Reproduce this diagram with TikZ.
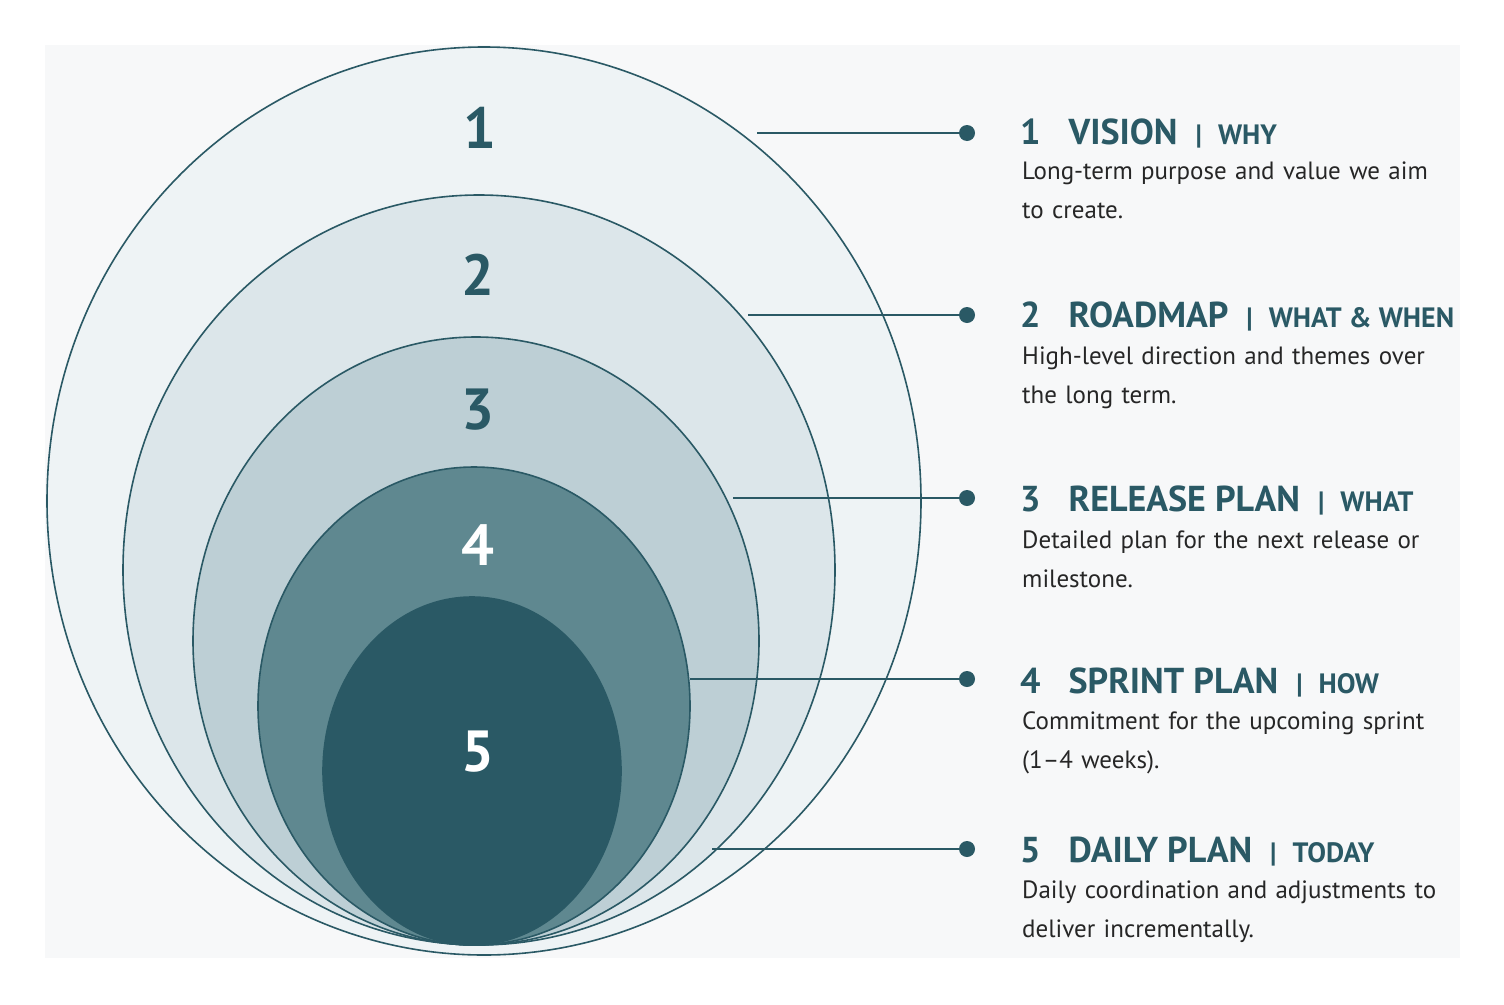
\documentclass[tikz,border=0pt]{standalone}
\usepackage{fontspec}
\setmainfont{PT Sans}
\usetikzlibrary{positioning, calc}

\definecolor{teal}{HTML}{2A5965}
\definecolor{ringA}{HTML}{EEF3F5}
\definecolor{ringB}{HTML}{DCE6EA}
\definecolor{ringC}{HTML}{BDCFD5}
\definecolor{ringD}{HTML}{5F8890}
\definecolor{ringE}{HTML}{2A5965}
\definecolor{panel}{HTML}{F7F8F9}

\begin{document}
\begin{tikzpicture}[
    x=1pt, y=-1pt,
    ring/.style={draw=teal, line width=1.6pt},
    num/.style={font=\fontsize{58}{60}\selectfont\bfseries},
    dot/.style={circle, fill=teal, inner sep=0pt, minimum size=16pt},
    link/.style={draw=teal, line width=1.6pt},
    title/.style={anchor=west, text=teal, inner sep=0pt, font=\fontsize{36}{40}\selectfont\bfseries},
    desc/.style={anchor=north west, text width=415pt, align=left, inner sep=0pt, text=black!85, font=\fontsize{25}{39}\selectfont}
]
\useasboundingbox (0,0) rectangle (1504,1004);
\fill[panel] (45,45) rectangle (1460,958);

% Nested rings
\draw[ring, fill=ringA] (484,501) ellipse (437 and 454);
\draw[ring, fill=ringB] (479,570) ellipse (356 and 375);
\draw[ring, fill=ringC] (476,641) ellipse (283 and 304);
\draw[ring, fill=ringD] (474,706) ellipse (216 and 239);
\draw[ring, fill=ringE] (472,771) ellipse (149 and 174);

% Ring numbers
\node[num, text=teal] (n1) at (480,128) {1};
\node[num, text=teal] (n2) at (478,275) {2};
\node[num, text=teal] (n3) at (478,410) {3};
\node[num, text=white] (n4) at (478,545) {4};
\node[num, text=white] (n5) at (478,752) {5};

% Anchors on rings
\coordinate (r1) at (757,133);
\coordinate (r2) at (748,315);
\coordinate (r3) at (733,498);
\coordinate (r4) at (690,679);
\coordinate (r5) at (712,849);

% Dots
\node[dot] (d1) at (967,133) {};
\node[dot] (d2) at (967,315) {};
\node[dot] (d3) at (967,498) {};
\node[dot] (d4) at (967,679) {};
\node[dot] (d5) at (967,849) {};

% Connectors
\draw[link] (r1) -- (d1.center);
\draw[link] (r2) -- (d2.center);
\draw[link] (r3) -- (d3.center);
\draw[link] (r4) -- (d4.center);
\draw[link] (r5) -- (d5.center);

% Labels
\node[title] (t1) at (1020,133) {1\hspace{28pt}VISION\hspace{18pt}{\fontsize{28}{30}\selectfont |\hspace{16pt}WHY}};
\node[desc] (s1) at (1022,162) {Long-term purpose and value we aim to create.};
\node[title] (t2) at (1020,316) {2\hspace{28pt}ROADMAP\hspace{18pt}{\fontsize{28}{30}\selectfont |\hspace{16pt}WHAT \& WHEN}};
\node[desc] (s2) at (1022,347) {High-level direction and themes over the long term.};
\node[title] (t3) at (1020,500) {3\hspace{28pt}RELEASE PLAN\hspace{18pt}{\fontsize{28}{30}\selectfont |\hspace{16pt}WHAT}};
\node[desc] (s3) at (1022,531) {Detailed plan for the next release or milestone.};
\node[title] (t4) at (1020,682) {4\hspace{28pt}SPRINT PLAN\hspace{18pt}{\fontsize{28}{30}\selectfont |\hspace{16pt}HOW}};
\node[desc] (s4) at (1022,711) {Commitment for the upcoming sprint (1–4 weeks).};
\node[title] (t5) at (1020,852) {5\hspace{28pt}DAILY PLAN\hspace{18pt}{\fontsize{28}{30}\selectfont |\hspace{16pt}TODAY}};
\node[desc] (s5) at (1022,881) {Daily coordination and adjustments to deliver incrementally.};

\end{tikzpicture}
\end{document}
